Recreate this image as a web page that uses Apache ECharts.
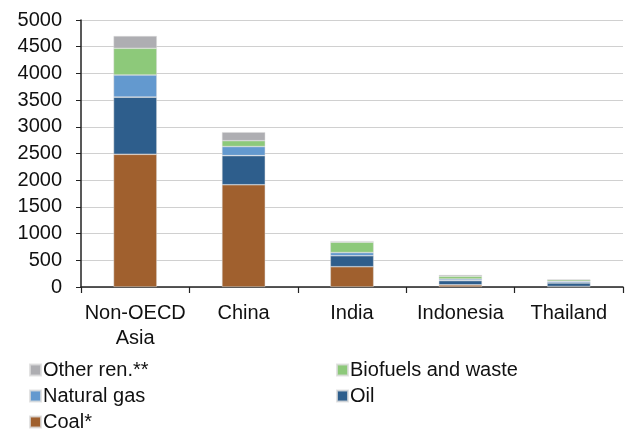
<!DOCTYPE html>
<html>
<head>
<meta charset="utf-8">
<script src="https://cdn.jsdelivr.net/npm/echarts@6/dist/echarts.min.js"></script>
<style>
  html, body { margin: 0; padding: 0; background: #fff; }
  #chart { width: 626px; height: 432px; }
</style>
</head>
<body>
<div id="chart"></div>
<script>
// Primary energy demand by fuel, stacked per region
const categories = ['Non-OECD\nAsia', 'China', 'India', 'Indonesia', 'Thailand'];
const coal     = [2485, 1915, 380, 40, 10];
const oil      = [1070, 545, 205, 80, 65];
const gas      = [415, 170, 60, 30, 30];
const biofuels = [500, 110, 195, 50, 30];
const otherRen = [230, 160, 20, 25, 5];
const yTicks   = [0, 500, 1000, 1500, 2000, 2500, 3000, 3500, 4000, 4500, 5000];

const colors = {
  coal: '#A0602E',
  oil: '#2E5E8C',
  gas: '#6399CF',
  bio: '#8DC97A',
  other: '#AEAEB2'
};

const font = 'Liberation Sans, Arial, sans-serif';
const textSize = 20;

function bar(name, data, color) {
  return {
    name: name,
    type: 'bar',
    stack: 'total',
    data: data,
    barWidth: '40%',
    itemStyle: { color: color, borderColor: 'rgba(220,220,220,0.8)', borderWidth: 0.6 },
    emphasis: { disabled: true }
  };
}

function legendColumn(left, names) {
  return {
    left: left, top: 355, orient: 'vertical', itemGap: 6, height: 90,
    itemWidth: 11, itemHeight: 11, icon: 'rect',
    textStyle: { fontSize: textSize, color: '#111', fontFamily: font, padding: [0, 0, 0, -3] },
    data: names
  };
}

const chart = echarts.init(document.getElementById('chart'), null, { renderer: 'canvas' });
chart.setOption({
  animation: false,
  textStyle: { fontFamily: font },
  grid: { left: 81, right: 3, top: 20, bottom: 145 },
  legend: [
    legendColumn(24, ['Other ren.**', 'Natural gas', 'Coal*']),
    legendColumn(331, ['Biofuels and waste', 'Oil'])
  ],
  xAxis: {
    type: 'category',
    data: categories,
    boundaryGap: true,
    axisLine: { lineStyle: { color: '#222', width: 1.5 } },
    axisTick: { show: true, length: 6, lineStyle: { color: '#222', width: 1.2 } },
    axisLabel: { fontSize: textSize, color: '#111', lineHeight: 25, margin: 14, fontFamily: font, interval: 0 }
  },
  yAxis: {
    type: 'value',
    min: yTicks[0],
    max: yTicks[yTicks.length - 1],
    interval: 500,
    axisLine: { show: true, lineStyle: { color: '#222', width: 1.5 } },
    axisTick: { show: true, length: 5, lineStyle: { color: '#222' } },
    axisLabel: {
      fontSize: textSize, color: '#111', margin: 19, fontFamily: font,
      formatter: function (v) { return String(v); }
    },
    splitLine: { lineStyle: { color: '#D0D0D0', width: 1 } }
  },
  series: [
    bar('Coal*', coal, colors.coal),
    bar('Oil', oil, colors.oil),
    bar('Natural gas', gas, colors.gas),
    bar('Biofuels and waste', biofuels, colors.bio),
    bar('Other ren.**', otherRen, colors.other)
  ]
});
</script>
</body>
</html>
